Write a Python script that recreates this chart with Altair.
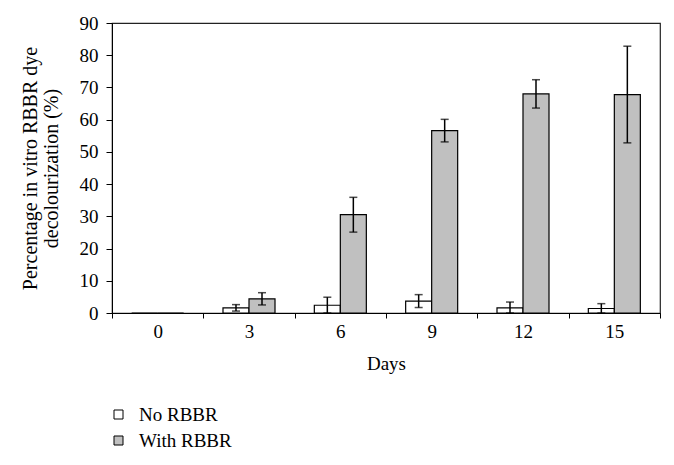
import altair as alt
import pandas as pd

days = ["0", "3", "6", "9", "12", "15"]
series = ["No RBBR", "With RBBR"]
no_rbbr = [0, 1.6, 2.4, 3.7, 1.6, 1.4]
no_rbbr_err = [0, 1.0, 2.5, 2.0, 1.8, 1.5]
with_rbbr = [0, 4.4, 30.5, 56.6, 68.0, 67.8]
with_rbbr_err = [0, 1.9, 5.4, 3.5, 4.4, 15.0]

rows = []
for i, d in enumerate(days):
    rows.append({"day": d, "series": series[0], "value": no_rbbr[i], "err": no_rbbr_err[i]})
    rows.append({"day": d, "series": series[1], "value": with_rbbr[i], "err": with_rbbr_err[i]})
df = pd.DataFrame(rows)
df["low"] = (df["value"] - df["err"]).clip(lower=0)
df["high"] = df["value"] + df["err"]

FONT = "Liberation Serif"
FS = 19

x = alt.X("day:N", sort=days, title="Days",
          scale=alt.Scale(paddingInner=0, paddingOuter=0),
          axis=alt.Axis(labelAngle=0, tickBand="extent", tickSize=5, labelPadding=4,
                        titlePadding=13, domainColor="black", tickColor="black"))
xoff = alt.XOffset("series:N", sort=series,
                   scale=alt.Scale(paddingInner=0, paddingOuter=0.756))

yscale = alt.Scale(domain=[0, 90], nice=False)
yaxis = alt.Axis(values=list(range(0, 91, 10)), tickSize=6, labelPadding=8,
                 grid=False, domainColor="black", tickColor="black",
                 titleLineHeight=21, titlePadding=18, titleFontSize=20)
ytitle = ["Percentage in vitro RBBR dye", "decolourization (%)"]


def Y(field):
    return alt.Y(field, scale=yscale, title=ytitle, axis=yaxis)


bars = alt.Chart(df).mark_bar(stroke="black", strokeWidth=1.2).encode(
    x=x,
    xOffset=xoff,
    y=Y("value:Q"),
    color=alt.Color("series:N", sort=series,
                    scale=alt.Scale(domain=series, range=["white", "#c0c0c0"]),
                    legend=alt.Legend(title=None, orient="none", legendX=-3, legendY=382,
                                      symbolType="square", symbolSize=81,
                                      symbolStrokeColor="black", symbolStrokeWidth=1,
                                      labelFontSize=FS, labelFont=FONT, rowPadding=6,
                                      labelOffset=11, labelColor="black")),
)

err_df = df[df["err"] > 0]
rules = alt.Chart(err_df).mark_rule(color="black", strokeWidth=1.5).encode(
    x=x, xOffset=xoff, y=Y("low:Q"), y2="high:Q")
caps_hi = alt.Chart(err_df).mark_tick(color="black", thickness=1.5, size=8).encode(
    x=x, xOffset=xoff, y=Y("high:Q"))
caps_lo = alt.Chart(err_df).mark_tick(color="black", thickness=1.5, size=8).encode(
    x=x, xOffset=xoff, y=Y("low:Q"))

chart = alt.layer(bars, rules, caps_hi, caps_lo).properties(
    width=548, height=290,
    background="white",
    autosize=alt.AutoSizeParams(type="none"),
    padding={"left": 104, "top": 15, "right": 6, "bottom": 150},
).configure_view(stroke="#222222", strokeWidth=1.2).configure_axis(
    labelFont=FONT, titleFont=FONT, labelFontSize=FS, titleFontSize=FS,
    titleFontWeight="normal", labelColor="black", titleColor="black",
)

chart.save("out.html", embed_options={"renderer": "svg", "actions": False})
